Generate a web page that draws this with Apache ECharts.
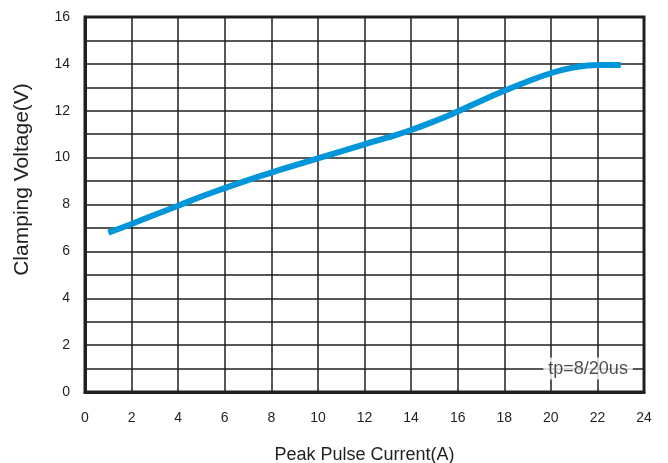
<!DOCTYPE html>
<html>
<head>
<meta charset="utf-8">
<script src="https://cdn.jsdelivr.net/npm/echarts@6/dist/echarts.min.js"></script>
<style>
  html, body { margin: 0; padding: 0; background: #fff; }
  #chart { width: 668px; height: 463px; }
</style>
</head>
<body>
<div id="chart"></div>
<script>
var current = [1, 2, 3, 4, 5, 6, 7, 8, 9, 10, 11, 12, 13, 14, 15, 16, 17, 18, 19, 20, 21, 22, 23];
var voltage = [6.8, 7.17, 7.56, 7.95, 8.34, 8.7, 9.04, 9.36, 9.67, 9.97, 10.27, 10.57, 10.86, 11.18, 11.55, 11.97, 12.42, 12.85, 13.25, 13.6, 13.85, 13.95, 13.95];
var noteText = 'tp=8/20us';
var notePos = [21.6, 1];

var ink = '#231f20';
var font = 'Liberation Sans';

var myChart = echarts.init(document.getElementById('chart'));
var d = [];
for (var i = 0; i < current.length; i++) {
    d.push([current[i], voltage[i]]);
}

var option = {
    animation: false,
    grid: {
        left: 85, right: 24, top: 17, bottom: 71,
        outerBoundsMode: 'none',
        show: true, borderColor: ink, borderWidth: 3
    },
    xAxis: {
        type: 'value', min: 0, max: 24, interval: 2,
        name: 'Peak Pulse Current(A)', nameLocation: 'middle', nameGap: 54,
        nameTextStyle: { color: ink, fontSize: 18, fontFamily: font },
        axisLine: { show: true, lineStyle: { color: ink, width: 3 } },
        axisTick: { show: false },
        axisLabel: { color: ink, fontSize: 14, fontFamily: font, margin: 19 },
        splitLine: { show: true, lineStyle: { color: ink, width: 1.5 } }
    },
    yAxis: {
        type: 'value', min: 0, max: 16, interval: 2,
        name: 'Clamping Voltage(V)', nameLocation: 'middle', nameGap: 52,
        nameTextStyle: { color: ink, fontSize: 21, fontFamily: font, padding: [0, 0, 0, 50] },
        axisLine: { show: true, lineStyle: { color: ink, width: 3 } },
        axisTick: { show: false },
        axisLabel: { color: ink, fontSize: 14, fontFamily: font, margin: 15 },
        splitLine: { show: true, lineStyle: { color: ink, width: 1.5 } },
        minorTick: { show: false, splitNumber: 2 },
        minorSplitLine: { show: true, lineStyle: { color: ink, width: 1.5 } }
    },
    series: [{
        type: 'line',
        data: d,
        smooth: true,
        showSymbol: false,
        lineStyle: { color: '#0096d9', width: 6 },
        z: 3
    }, {
        type: 'scatter',
        data: [notePos],
        symbolSize: 0,
        z: 4,
        label: {
            show: true,
            position: 'inside',
            formatter: noteText,
            color: ink,
            fontSize: 18,
            fontFamily: font,
            backgroundColor: '#fff',
            padding: [2, 5]
        }
    }]
};
myChart.setOption(option);
</script>
</body>
</html>
